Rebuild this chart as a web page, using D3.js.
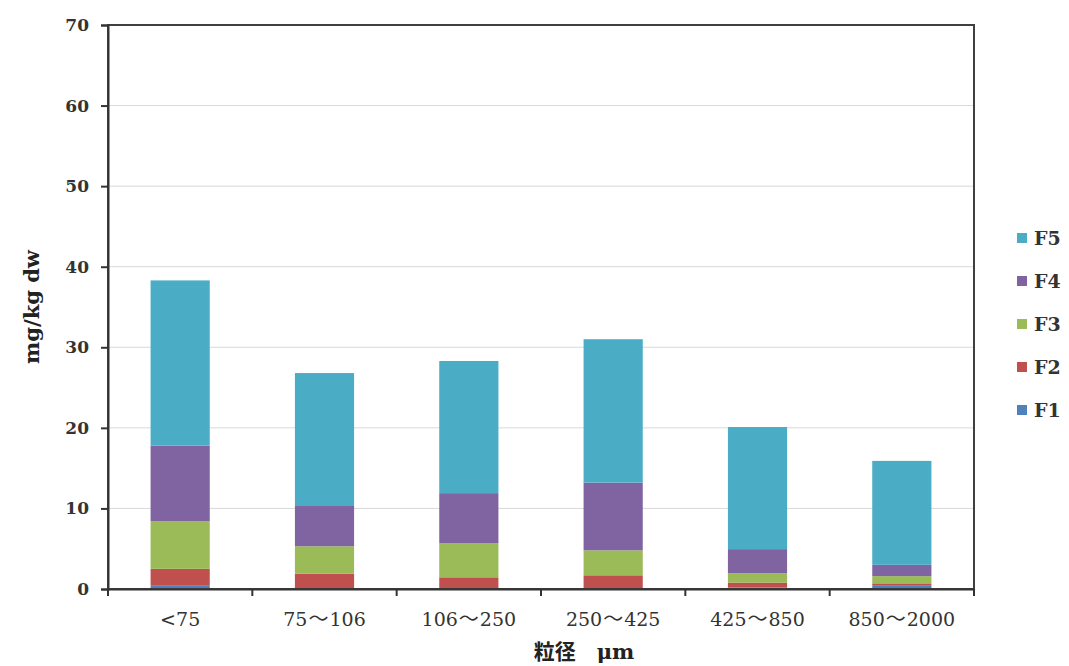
<!DOCTYPE html>
<html><head><meta charset="utf-8">
<script src="https://cdn.jsdelivr.net/npm/d3@7"></script>
<style>body{margin:0;background:#fff}svg{display:block}</style>
</head><body><svg id="c" width="1069" height="666"></svg>
<script>
const categories = ["<75","75～106","106～250","250～425","425～850","850～2000"];
const seriesNames = ["F1","F2","F3","F4","F5"];
const F1 = [0.4, 0.1, 0.1, 0.1, 0.2, 0.4];
const F2 = [2.1, 1.8, 1.35, 1.6, 0.6, 0.3];
const F3 = [5.9, 3.4, 4.25, 3.1, 1.15, 0.9];
const F4 = [9.4, 5.0, 6.2, 8.4, 3.0, 1.4];
const F5 = [20.5, 16.5, 16.4, 17.8, 15.15, 12.9];
const colors = ["#4F81BD","#C0504D","#9BBB59","#8064A2","#4BACC6"];
const yTicks = [0,10,20,30,40,50,60,70];

const svg = d3.select("#c");
const L=108, R=974, T=25, B=589;
const x = d3.scaleBand().domain(categories).range([L,R]).paddingInner(0.59).paddingOuter(0.295);
const y = d3.scaleLinear().domain([0,70]).range([B,T]);
const serif = "'DejaVu Serif', serif";
const cjk = "'Noto Sans CJK JP', sans-serif";

// gridlines
svg.append("g").selectAll("line").data(yTicks.filter(d=>d>0&&d<70)).join("line")
  .attr("x1",L).attr("x2",R).attr("y1",d=>y(d)).attr("y2",d=>y(d))
  .attr("stroke","#d9d9d9").attr("stroke-width",1);

const rows = categories.map((c,i)=>({cat:c,F1:F1[i],F2:F2[i],F3:F3[i],F4:F4[i],F5:F5[i]}));
const stack = d3.stack().keys(seriesNames)(rows);
svg.append("g").selectAll("g").data(stack).join("g").attr("fill",(d,i)=>colors[i])
  .selectAll("rect").data(d=>d).join("rect")
  .attr("x",d=>x(d.data.cat)).attr("width",x.bandwidth())
  .attr("y",d=>y(d[1])).attr("height",d=>y(d[0])-y(d[1]));

// frame
svg.append("rect").attr("x",L).attr("y",T).attr("width",R-L).attr("height",B-T)
  .attr("fill","none").attr("stroke","#404040").attr("stroke-width",2);

// y axis
const ya = svg.append("g").attr("transform",`translate(${L},0)`)
  .call(d3.axisLeft(y).tickValues(yTicks).tickSize(7).tickPadding(12));
ya.select(".domain").attr("stroke","#333").attr("stroke-width",2);
ya.selectAll(".tick line").attr("stroke","#333").attr("stroke-width",2);
ya.selectAll("text").attr("font-family",serif).attr("font-size",17).attr("font-weight","bold").attr("fill","#333");

// x axis
const xa = svg.append("g").attr("transform",`translate(0,${B})`)
  .call(d3.axisBottom(x).tickSize(0).tickFormat(""));
xa.select(".domain").attr("stroke","#333").attr("stroke-width",2);
xa.selectAll(".tick").each(function(d){
  const t = d3.select(this).append("text").attr("y",37).attr("dy",0)
    .attr("text-anchor","middle").attr("font-family",serif).attr("font-size",19).attr("fill","#333");
  const parts = d.split("～");
  t.append("tspan").text(parts[0]);
  if (parts.length>1){
    t.append("tspan").attr("font-family",cjk).attr("font-size",20).attr("dx",1).text("～");
    t.append("tspan").attr("dx",1).text(parts[1]);
  }
});
const bounds = d3.range(categories.length+1).map(i=>L+i*(R-L)/categories.length);
svg.append("g").selectAll("line").data(bounds).join("line")
  .attr("x1",d=>d).attr("x2",d=>d).attr("y1",B).attr("y2",B+7)
  .attr("stroke","#333").attr("stroke-width",2);

// axis titles
svg.append("text").attr("transform","translate(39,307) rotate(-90)").attr("text-anchor","middle")
  .attr("font-family",serif).attr("font-weight","bold").attr("font-size",21).attr("fill","#222")
  .text("mg/kg dw");
const xt = svg.append("text").attr("x",584).attr("y",659).attr("text-anchor","middle").attr("fill","#222").attr("font-weight","bold");
xt.append("tspan").attr("font-family",cjk).attr("font-size",21).text("粒径　");
xt.append("tspan").attr("font-family",serif).attr("font-size",21).text("μm");

// legend
const leg = svg.append("g");
const legY = d3.scalePoint().domain(seriesNames.slice().reverse()).range([238,410]);
seriesNames.forEach((s,i)=>{
  const yy = legY(s);
  leg.append("rect").attr("x",1017).attr("y",yy-5).attr("width",10).attr("height",10).attr("fill",colors[i]);
  leg.append("text").attr("x",1034).attr("y",yy+7).attr("font-family",serif).attr("font-weight","bold")
    .attr("font-size",19).attr("fill","#333").text(s);
});
</script></body></html>
